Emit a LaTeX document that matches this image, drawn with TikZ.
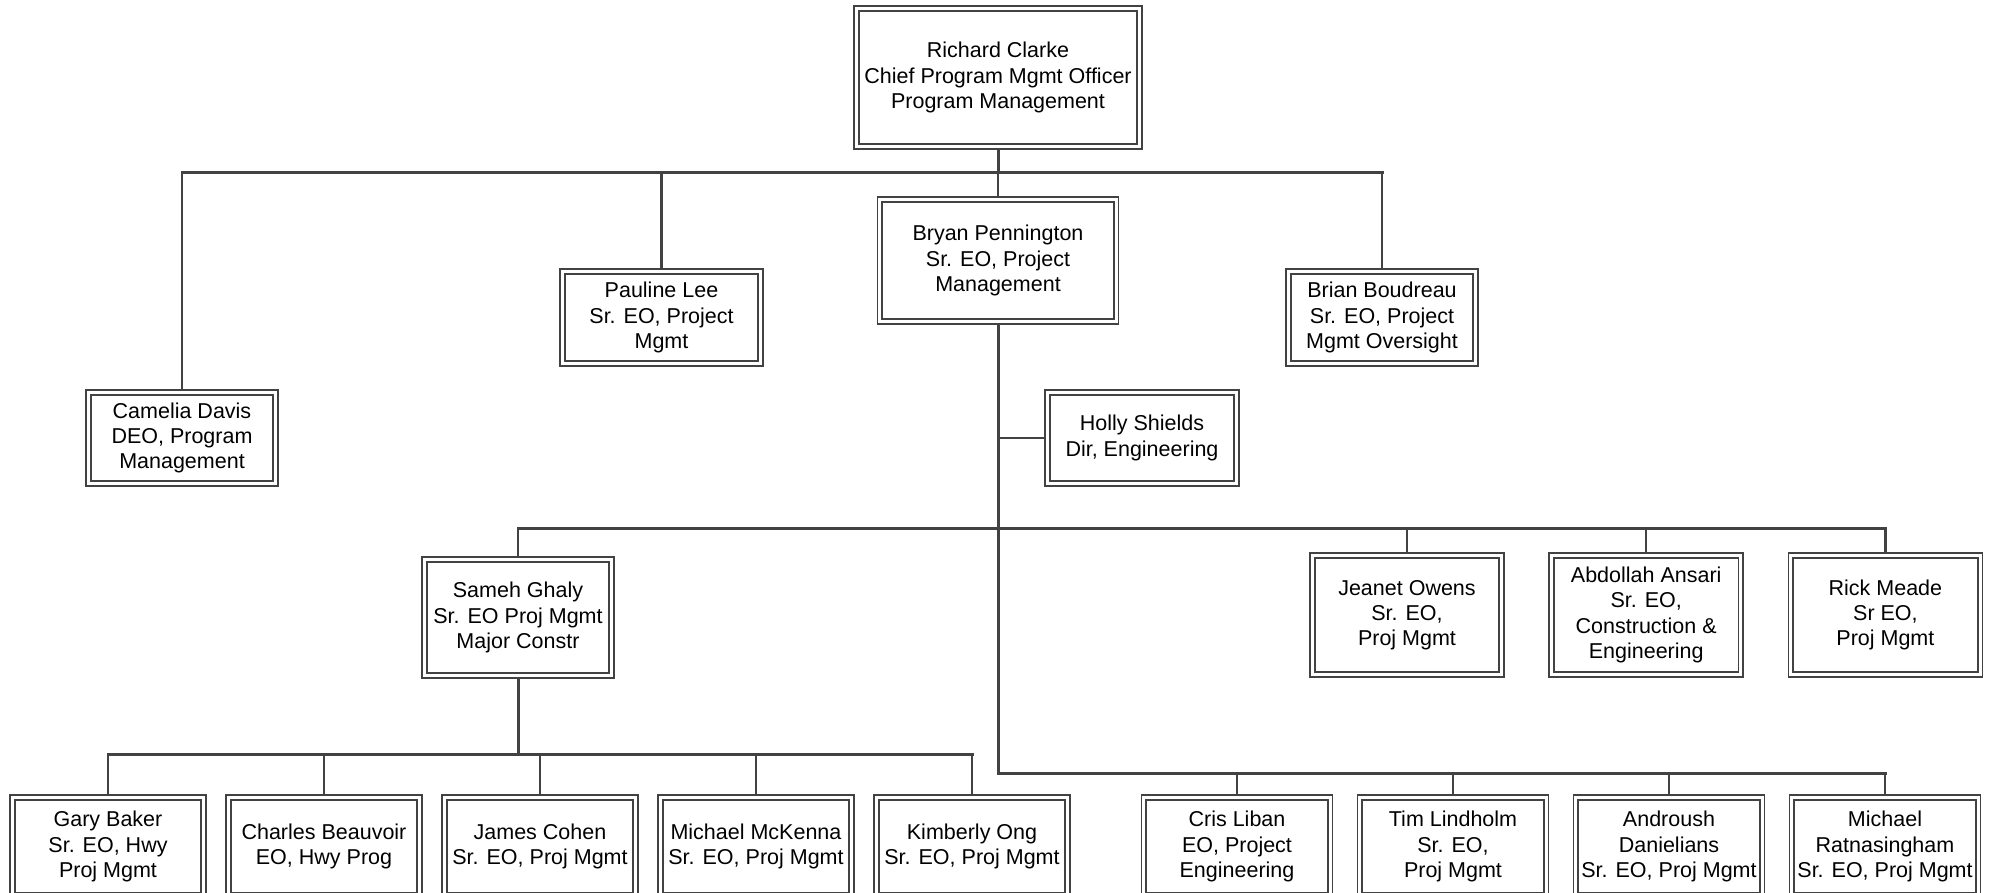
\documentclass[tikz,border=0pt]{standalone}
\usepackage{fontspec}
\setmainfont{Liberation Sans}
\usepackage{tikz}
\usetikzlibrary{positioning,backgrounds}
\usepackage{xcolor}
\definecolor{linegray}{HTML}{424242}
\newcommand{\persfont}{\fontsize{21.5}{25.2}\selectfont}

\begin{document}
\begin{tikzpicture}[x=1pt, y=-1pt,
        person/.style={draw=linegray, double=white, double distance=3pt, line width=1.8pt, fill=white, text=black, inner sep=0pt, outer sep=0pt, align=center, font=\persfont},
        lowbox/.style={person, minimum width=191.2pt, minimum height=98.2pt},
        rowbox/.style={person, minimum width=186.2pt, minimum height=98.2pt},
        midbox/.style={person, minimum width=189.2pt, minimum height=119.2pt},
        link/.style={draw=linegray, line width=2.2pt},
        trunk/.style={draw=linegray, line width=3pt, line cap=rect}
    ]
        \useasboundingbox (0,0) rectangle (1995,893);

        % Direção
        \node[person, minimum width=283.2pt, minimum height=138.2pt] (rc) at (998,77.5) {Richard Clarke\\Chief Program Mgmt Officer\\Program Management};

        % Primeiro nível
        \node[person, minimum width=187.2pt, minimum height=91.2pt] (cd) at (182,438) {Camelia Davis\\DEO, Program\\Management};
        \node[person, minimum width=198.2pt, minimum height=92.2pt] (pl) at (661.5,317.5) {Pauline Lee\\Sr. EO, Project\\Mgmt};
        \node[person, minimum width=236.2pt, minimum height=122.2pt] (bp) at (998,260.5) {Bryan Pennington\\Sr. EO, Project\\Management};
        \node[person, minimum width=187.2pt, minimum height=92.2pt] (bb) at (1382,317.5) {Brian Boudreau\\Sr. EO, Project\\Mgmt Oversight};

        % Equipe de Bryan
        \node[person, minimum width=189.2pt, minimum height=91.2pt] (hs) at (1142,438) {Holly Shields\\Dir, Engineering};
        \node[person, minimum width=187.2pt, minimum height=116.2pt] (sg) at (518,617.5) {Sameh Ghaly\\Sr. EO Proj Mgmt\\Major Constr};
        \node[midbox] (jo) at (1407,615) {Jeanet Owens\\Sr. EO,\\Proj Mgmt};
        \node[midbox, right=50pt of jo] (aa) {Abdollah Ansari\\Sr. EO,\\Construction \&\\Engineering};
        \node[midbox, right=50pt of aa] (rm) {Rick Meade\\Sr EO,\\Proj Mgmt};

        % Equipe de Sameh
        \node[lowbox] (gb) at (108,846.5) {Gary Baker\\Sr. EO, Hwy\\Proj Mgmt};
        \node[lowbox, right=24.8pt of gb] (cb) {Charles Beauvoir\\EO, Hwy Prog};
        \node[lowbox, right=24.8pt of cb] (jc) {James Cohen\\Sr. EO, Proj Mgmt};
        \node[lowbox, right=24.8pt of jc] (mm) {Michael McKenna\\Sr. EO, Proj Mgmt};
        \node[lowbox, right=24.8pt of mm] (ko) {Kimberly Ong\\Sr. EO, Proj Mgmt};

        % Linha inferior direita
        \node[rowbox] (cl) at (1237,846.5) {Cris Liban\\EO, Project\\Engineering};
        \node[rowbox, right=29.8pt of cl] (tl) {Tim Lindholm\\Sr. EO,\\Proj Mgmt};
        \node[rowbox, right=29.8pt of tl] (ad) {Androush\\Danielians\\Sr. EO, Proj Mgmt};
        \node[rowbox, right=29.8pt of ad] (mr) {Michael\\Ratnasingham\\Sr. EO, Proj Mgmt};

        % Barramentos
        \coordinate (bus1) at (998,173);
        \coordinate (bus3) at (998,528);
        \coordinate (bus4) at (998,773);
        \coordinate (bus5) at (518,754);

        % Conexões
        \begin{scope}[on background layer]
            \draw[trunk] (rc.south) -- (bus1);
            \draw[trunk] (cd.north |- bus1) -- (bb.north |- bus1);
            \foreach \n in {cd,pl,bp,bb} \draw[link] (\n.north |- bus1) -- (\n.north);

            \draw[trunk] (bp.south) -- (bus4) -- (mr.north |- bus4);
            \draw[link] (hs.west) -- (hs.west -| bp.south);

            \draw[trunk] (sg.north |- bus3) -- (rm.north |- bus3);
            \foreach \n in {sg,jo,aa,rm} \draw[link] (\n.north |- bus3) -- (\n.north);
            \foreach \n in {cl,tl,ad,mr} \draw[link] (\n.north |- bus4) -- (\n.north);

            \draw[trunk] (sg.south) -- (bus5);
            \draw[trunk] (gb.north |- bus5) -- (ko.north |- bus5);
            \foreach \n in {gb,cb,jc,mm,ko} \draw[link] (\n.north |- bus5) -- (\n.north);
        \end{scope}
    \end{tikzpicture}
\end{document}
